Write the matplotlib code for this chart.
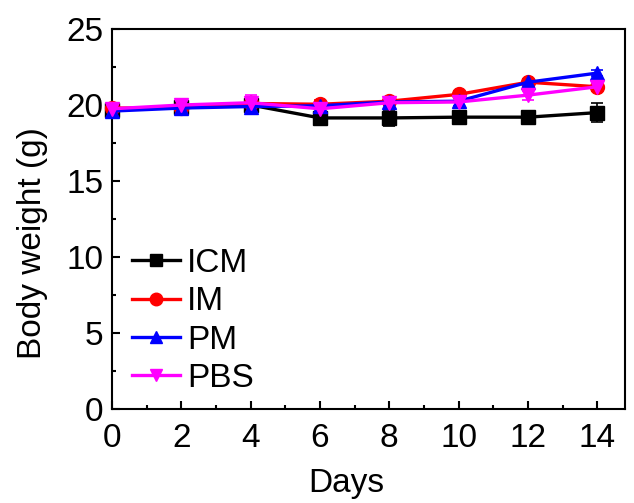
import matplotlib
matplotlib.use("Agg")
import matplotlib.pyplot as plt
from matplotlib.ticker import MultipleLocator
from matplotlib.lines import Line2D

plt.rcParams['font.family'] = ['Liberation Sans', 'DejaVu Sans']

days = [0, 2, 4, 6, 8, 10, 12, 14]
icm = [19.7, 19.9, 20.0, 19.15, 19.15, 19.2, 19.2, 19.5]
icm_err = [0.3, 0.3, 0.4, 0.2, 0.5, 0.2, 0.4, 0.6]
im = [19.8, 19.8, 20.1, 20.05, 20.25, 20.7, 21.5, 21.2]
im_err = [0.2, 0.3, 0.3, 0.3, 0.2, 0.2, 0.2, 0.3]
pm = [19.6, 19.8, 19.9, 19.95, 20.2, 20.25, 21.5, 22.1]
pm_err = [0.2, 0.3, 0.3, 0.2, 0.2, 0.3, 0.2, 0.2]
pbs = [19.75, 20.0, 20.15, 19.75, 20.15, 20.2, 20.65, 21.2]
pbs_err = [0.3, 0.4, 0.5, 0.3, 0.3, 0.3, 0.3, 0.2]

series = [
    ("ICM", icm, icm_err, 'black', 's'),
    ("IM", im, im_err, 'red', 'o'),
    ("PM", pm, pm_err, 'blue', '^'),
    ("PBS", pbs, pbs_err, '#ff00ff', 'v'),
]

fig = plt.figure(figsize=(6.34, 5.03), dpi=100)
ax = fig.add_axes([0.1767, 0.187, 0.8091, 0.7553])

handles = []
for name, vals, err, col, mk in series:
    ax.errorbar(days, vals, yerr=err, color=col, marker=mk, markersize=10,
                linewidth=2.4, elinewidth=1.2, capsize=4, capthick=1.2,
                clip_on=False, zorder=3)
    handles.append(Line2D([], [], color=col, marker=mk, markersize=9,
                          linewidth=2.4, label=name))

ax.set_xlim(0, 14.8)
ax.set_ylim(0, 25)
ax.xaxis.set_major_locator(MultipleLocator(2))
ax.xaxis.set_minor_locator(MultipleLocator(1))
ax.yaxis.set_major_locator(MultipleLocator(5))
ax.yaxis.set_minor_locator(MultipleLocator(2.5))
ax.tick_params(which='both', direction='in', top=False, right=False, width=1.5, labelsize=24)
ax.tick_params(which='major', length=6)
ax.tick_params(which='minor', length=3)
ax.tick_params(axis='x', pad=10)
ax.tick_params(axis='y', pad=6)
for s in ax.spines.values():
    s.set_linewidth(1.5)

ax.set_xlabel("Days", fontsize=24)
ax.set_ylabel("Body weight (g)", fontsize=24)
ax.xaxis.set_label_coords(0.456, -0.155)
ax.yaxis.set_label_coords(-0.125, 0.437)

leg = ax.legend(handles=handles, loc='center left', bbox_to_anchor=(0.039, 0.2316),
                frameon=False, fontsize=24, handlelength=1.45, handletextpad=0.2,
                labelspacing=0.22, borderpad=0, borderaxespad=0)

fig.savefig("out.png", dpi=100)
